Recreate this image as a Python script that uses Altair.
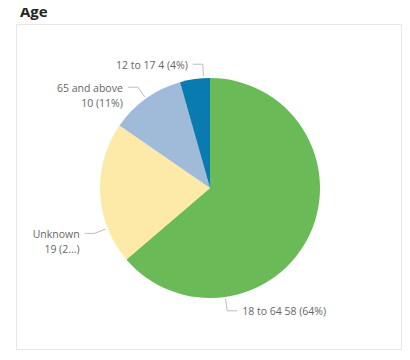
import altair as alt
import pandas as pd

# ---- data ----
categories = ["18 to 64", "Unknown", "65 and above", "12 to 17"]
counts = [58, 19, 10, 4]
labels = ["18 to 64 58 (64%)", "Unknown\n19 (2...)", "65 and above\n10 (11%)", "12 to 17 4 (4%)"]
colors = ["#6aba57", "#feeaa8", "#9fbbd9", "#0a7bb1"]
# layout nudges for label anchors (degrees added to slice mid-angle)
label_nudge = [57.3, -18.5, 0.0, 4.6]

df = pd.DataFrame({
    "cat": categories,
    "n": counts,
    "label": labels,
    "idx": list(range(len(categories))),
    "nudge": label_nudge,
})

CX, CY, R = 202, 180, 110
W, H = 394, 344

base = alt.Chart(df)

frame = alt.Chart(alt.Data(values=[{"a": 1}])).mark_rect(
    fill="white", stroke="#e6e6e6", strokeWidth=1
).encode(
    x=alt.value(8.5), x2=alt.value(393.5), y=alt.value(16.5), y2=alt.value(341.5)
)

title = alt.Chart(alt.Data(values=[{"t": "Age"}])).mark_text(
    align="left", baseline="alphabetic", font="Open Sans", fontSize=15,
    fontWeight="bold", color="#252423"
).encode(x=alt.value(12), y=alt.value(8.5), text="t:N")

pie = base.mark_arc(radius=R, stroke=None).encode(
    theta=alt.Theta("n:Q", stack=True),
    order=alt.Order("idx:Q"),
    color=alt.Color("cat:N", scale=alt.Scale(domain=categories, range=colors), legend=None),
    x=alt.value(CX), y=alt.value(CY),
)

geo = base.transform_window(
    cum="sum(n)", sort=[alt.SortField("idx")]
).transform_joinaggregate(
    total="sum(n)"
).transform_calculate(
    mid="(datum.cum - datum.n/2)/datum.total*2*PI + datum.nudge*PI/180"
).transform_calculate(
    side="sin(datum.mid) >= 0 ? 1 : -1",
    sx=f"{CX} + 112*sin(datum.mid)",
    sy=f"{CY} - 112*cos(datum.mid)",
    ex=f"{CX} + 124*sin(datum.mid)",
    ey=f"{CY} - 124*cos(datum.mid)",
).transform_calculate(
    hx="datum.ex + datum.side*10",
    tx="datum.ex + datum.side*15",
    ty="datum.ey + 1.5",
)

leader1 = geo.mark_rule(color="#bdbdbd", strokeWidth=1).encode(
    x=alt.X("sx:Q", scale=None), y=alt.Y("sy:Q", scale=None),
    x2="ex:Q", y2="ey:Q",
)
leader2 = geo.mark_rule(color="#bdbdbd", strokeWidth=1).encode(
    x=alt.X("ex:Q", scale=None), y=alt.Y("ey:Q", scale=None),
    x2="hx:Q", y2="ey:Q",
)

txt_kw = dict(font="Open Sans", fontSize=10.5, color="#666666", baseline="middle",
              lineBreak="\n", lineHeight=15)
text_left = geo.transform_filter("datum.side < 0").mark_text(align="right", **txt_kw).encode(
    x=alt.X("tx:Q", scale=None), y=alt.Y("ty:Q", scale=None), text="label:N"
)
text_right = geo.transform_filter("datum.side > 0").mark_text(align="left", **txt_kw).encode(
    x=alt.X("tx:Q", scale=None), y=alt.Y("ty:Q", scale=None), text="label:N"
)

chart = alt.layer(frame, title, pie, leader1, leader2, text_left, text_right).properties(
    width=W, height=H, autosize=alt.AutoSizeParams(type="none"), padding=0
).configure_view(stroke=None).resolve_scale(color="independent")

chart.save("out.html", embed_options={"renderer": "svg", "actions": False})
